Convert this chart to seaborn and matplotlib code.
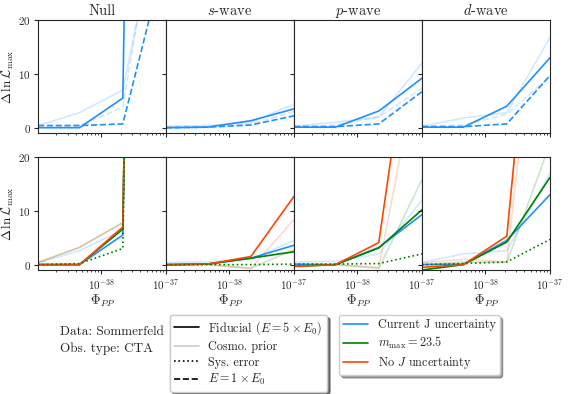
import matplotlib
matplotlib.use("Agg")
import matplotlib.pyplot as plt
import pandas as pd
import seaborn as sns
from matplotlib.lines import Line2D
from matplotlib.ticker import NullFormatter

# x grid (Phi_PP) and panel titles
PHI_PP = [1.05e-39, 4.6e-39, 2.15e-38, 1.0e-37]
PANELS = ["Null", "$s$-wave", "$p$-wave", "$d$-wave"]

# top row: current J uncertainty (blue), one list per panel
TOP_FID = [[0.0, 0.0, 5.5, 500], [0.0, 0.1, 1.3, 3.5], [0.1, 0.1, 3.1, 9.2], [0.1, 0.1, 4.0, 13.0]]
TOP_COSMO = [[0.4, 2.8, 7.0, 46], [0.3, 0.4, 1.0, 4.4], [0.3, 1.0, 2.0, 12.0], [0.3, 1.8, 2.8, 16.8]]
TOP_E1 = [[0.4, 0.4, 0.7, 32.5], [0.0, 0.1, 0.5, 2.2], [0.2, 0.2, 0.7, 6.7], [0.2, 0.2, 0.7, 9.7]]
TOP_E1_COSMO = [[0.3, 0.4, 3.8, 52], [0.1, 0.2, 0.7, 3.0], [0.2, 0.5, 2.0, 7.3], [0.3, 0.5, 2.5, 9.5]]

# bottom row: current J uncertainty (blue)
BLUE_FID = [[0.0, 0.0, 5.5, 500], [0.0, 0.1, 1.2, 3.6], [0.1, 0.0, 3.2, 9.3], [0.0, 0.1, 4.5, 13.0]]
BLUE_COSMO = [[0.3, 2.6, 6.5, 500], [0.4, 0.5, 1.0, 4.5], [0.5, 0.6, 2.0, 12.0], [0.4, 2.0, 2.6, 17.0]]

# m_max = 23.5 (green)
GREEN_FID = [[0.0, 0.0, 6.6, 500], [0.0, 0.1, 1.2, 2.4], [-0.3, 0.0, 3.1, 10.2], [-1.0, 0.0, 4.2, 16.2]]
GREEN_COSMO = [[0.4, 3.2, 7.8, 500], [0.0, 0.0, -0.7, 2.8], [-0.5, 0.0, -0.7, 15.8], [0.0, 0.5, 0.4, 22.5]]
GREEN_SYS = [[0.0, 0.2, 3.0, 500], [0.0, 0.0, 0.0, 0.1], [0.1, 0.1, 0.2, 2.0], [0.0, 0.2, 0.5, 4.7]]

# No J uncertainty (red)
RED_FID = [[0.0, 0.0, 7.0, 500], [-0.1, 0.1, 1.5, 12.7], [-0.3, 0.0, 4.1, 60], [-0.5, 0.0, 5.3, 88]]
RED_COSMO = [[0.4, 3.2, 7.8, 500], [0.0, 0.1, -0.7, 8.4], [-0.3, 0.0, -0.5, 41], [0.3, 1.0, 0.5, 73]]

BLUE = "#1e90ff"
GREEN = "green"
RED = "orangered"
FAINT = 0.2

sns.set_style("ticks")
plt.rcParams["font.family"] = "serif"
plt.rcParams["font.serif"] = ["cmr10"]
plt.rcParams["mathtext.fontset"] = "cm"
plt.rcParams["axes.formatter.use_mathtext"] = True
plt.rcParams["axes.unicode_minus"] = False


def draw(ax, values, color, ls="-", alpha=1.0, lw=1.2):
    df = pd.DataFrame({"phi": PHI_PP, "dl": values})
    sns.lineplot(data=df, x="phi", y="dl", ax=ax, color=color, linestyle=ls,
                 alpha=alpha, lw=lw, sort=False)


fig, axes = plt.subplots(2, 4, figsize=(5.69, 3.94), dpi=100, sharex=True, sharey=True)
fig.subplots_adjust(left=0.0668, right=0.9666, top=0.949, bottom=0.3147,
                    wspace=0, hspace=0.212)

for i in range(4):
    top, bot = axes[0, i], axes[1, i]
    for ax in (top, bot):
        ax.set_xscale("log")

    # top row: energy comparison for current J uncertainty
    draw(top, TOP_COSMO[i], BLUE, alpha=FAINT)
    draw(top, TOP_E1_COSMO[i], BLUE, ls="--", alpha=FAINT)
    draw(top, TOP_FID[i], BLUE)
    draw(top, TOP_E1[i], BLUE, ls="--")

    # bottom row: J-factor treatments
    draw(bot, BLUE_COSMO[i], BLUE, alpha=FAINT)
    draw(bot, GREEN_COSMO[i], GREEN, alpha=FAINT)
    draw(bot, RED_COSMO[i], RED, alpha=FAINT)
    draw(bot, BLUE_FID[i], BLUE)
    draw(bot, GREEN_FID[i], GREEN)
    draw(bot, RED_FID[i], RED)
    draw(bot, GREEN_SYS[i], GREEN, ls=":")

    top.set_title(PANELS[i], fontsize=10.5, pad=4)
    for ax in (top, bot):
        ax.set_xlim(PHI_PP[0], PHI_PP[-1])
        ax.set_ylim(-1, 20)
        ax.set_yticks([0, 10, 20])
        ax.set_xticks([1e-38, 1e-37])
        ax.xaxis.set_minor_formatter(NullFormatter())
        ax.tick_params(labelsize=8, length=3, width=0.8, pad=2)
        ax.tick_params(which="minor", length=1.5, width=0.6)
        ax.set_xlabel("")
        ax.set_ylabel("")
        for s in ax.spines.values():
            s.set_visible(True)
    bot.set_xlabel(r"$\Phi_{PP}$", fontsize=9.5, labelpad=1)

for ax in axes[:, 0]:
    ax.set_ylabel(r"$\Delta\,\ln\mathcal{L}_{\max}$", fontsize=9.5, labelpad=2)

fig.text(60 / 569, 1 - 335 / 394, "Data: Sommerfeld", fontsize=9.5, va="baseline")
fig.text(60 / 569, 1 - 352 / 394, "Obs. type: CTA", fontsize=9.5, va="baseline")

style_handles = [
    Line2D([], [], color="black", lw=1.2),
    Line2D([], [], color="black", lw=1.2, alpha=FAINT),
    Line2D([], [], color="black", lw=1.2, ls=":"),
    Line2D([], [], color="black", lw=1.2, ls="--"),
]
style_labels = [r"Fiducial ($E = 5\times E_0$)", "Cosmo. prior", "Sys. error",
                r"$E = 1\times E_0$"]
color_handles = [Line2D([], [], color=c, lw=1.2) for c in (BLUE, GREEN, RED)]
color_labels = ["Current J uncertainty", r"$m_{\max} = 23.5$", r"No $J$ uncertainty"]

legend_kw = dict(loc="upper left", borderaxespad=0, fontsize=8.8, shadow=True,
                 fancybox=True, labelspacing=0.3, borderpad=0.35)
leg1 = fig.legend(style_handles, style_labels,
                  bbox_to_anchor=(170 / 569, 1 - 315 / 394), **legend_kw)
fig.legend(color_handles, color_labels,
           bbox_to_anchor=(339 / 569, 1 - 315 / 394), **legend_kw)
fig.add_artist(leg1)

fig.savefig("out.png", dpi=100)
